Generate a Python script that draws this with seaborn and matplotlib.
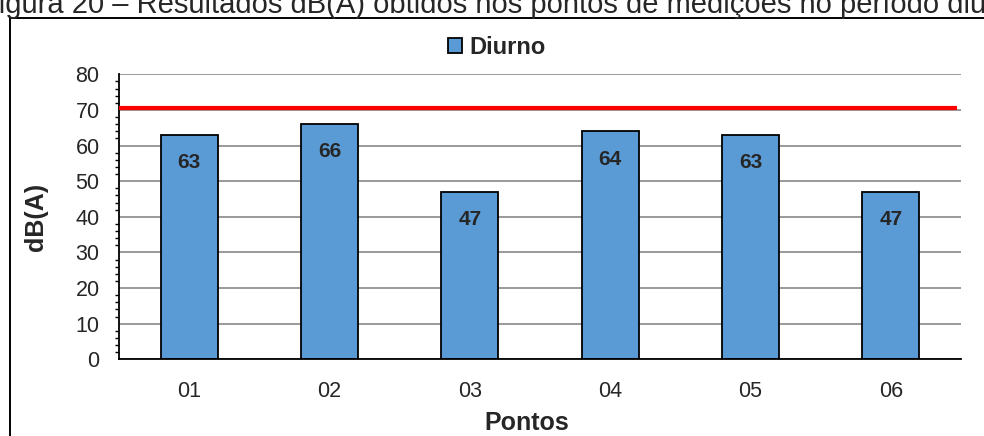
import matplotlib
matplotlib.use("Agg")
import matplotlib.pyplot as plt
from matplotlib.lines import Line2D
import seaborn as sns
import pandas as pd

# Noise measurements, daytime period
pontos = ["01", "02", "03", "04", "05", "06"]
diurno = [63, 66, 47, 64, 63, 47]
limite = 70.6
y_ticks = [0, 10, 20, 30, 40, 50, 60, 70, 80]
titulo = "Figura 20 – Resultados dB(A) obtidos nos pontos de medições no período diurno"

sns.set_style("white")
plt.rcParams["font.family"] = ["Liberation Sans", "DejaVu Sans"]

W, H = 984, 436
fig = plt.figure(figsize=(W / 100, H / 100), dpi=100)
ax = fig.add_axes([119 / W, 1 - 359.3 / H, (961 - 119) / W, (359.3 - 74.3) / H])

df = pd.DataFrame({"Pontos": pontos, "dB(A)": diurno})
sns.barplot(data=df, x="Pontos", y="dB(A)", color="#5B9BD5", saturation=1,
            edgecolor="black", linewidth=1.3, width=0.406, label="Diurno", ax=ax)

# Limit line
ax.hlines(limite, -0.5, 5.47, color="#FF0000", linewidth=3.0, zorder=4)

# Value labels inside the bars
texts = ax.bar_label(ax.containers[0], labels=[str(v) for v in diurno],
                     padding=-20, fontsize=15, fontweight="bold")
for t in texts:
    t.set_va("center")

ax.set_xlim(-0.5, 5.5)
ax.set_ylim(0, 80)
ax.set_yticks(y_ticks)
ax.set_yticklabels([str(v) for v in y_ticks], fontsize=15.5)
ax.set_yticks(range(0, 81, 2), minor=True)
ax.yaxis.grid(True, which="major", color="#929292", linewidth=1.3)
ax.set_axisbelow(True)

# Category boundaries carry the ticks, centres carry the labels
ax.set_xticks([i - 0.5 for i in range(len(pontos) + 1)])
ax.set_xticklabels([""] * (len(pontos) + 1))
ax.set_xticks(range(len(pontos)), minor=True)
ax.set_xticklabels(pontos, minor=True, fontsize=15.5)
ax.tick_params(axis="x", which="major", direction="out", length=5, width=1.3, color="black")
ax.tick_params(axis="x", which="minor", length=0, pad=15.5)
ax.tick_params(axis="y", which="major", direction="out", length=5, width=1.3, color="black", pad=9)
ax.tick_params(axis="y", which="minor", direction="out", length=3, width=1.0, color="black", left=True)

for s in ["top", "right"]:
    ax.spines[s].set_visible(False)
for s in ["left", "bottom"]:
    ax.spines[s].set_color("black")
    ax.spines[s].set_linewidth(1.3)

ax.set_xlabel("Pontos", fontsize=18, fontweight="bold")
ax.set_ylabel("dB(A)", fontsize=18, fontweight="bold")
ax.xaxis.label.set_va("center")
ax.xaxis.set_label_coords((527 - 119) / (961 - 119), -(423 - 359.3) / 285)
ax.yaxis.label.set_va("center")
ax.yaxis.set_label_coords(-(119 - 36) / (961 - 119), 0.5)

leg = ax.legend(loc="center", bbox_to_anchor=(496.5 / W, 1 - 47 / H),
                bbox_transform=fig.transFigure, frameon=False, borderpad=0,
                handlelength=0.6, handleheight=0.6, handletextpad=0.3,
                prop={"weight": "bold", "size": 17})
for h in leg.legend_handles:
    h.set_edgecolor("black")
    h.set_linewidth(1.3)

# Caption above the framed chart
fig.text(-19 / W, 1 - 13 / H, titulo, fontsize=21, va="baseline", ha="left")

# Frame around the chart
top = 1 - 18.5 / H
fig.add_artist(Line2D([9.5 / W, 9.5 / W], [0, top], color="black", linewidth=1.4,
                      transform=fig.transFigure))
fig.add_artist(Line2D([9.5 / W, 1], [top, top], color="black", linewidth=1.4,
                      transform=fig.transFigure))

fig.savefig("out.png", dpi=100)
